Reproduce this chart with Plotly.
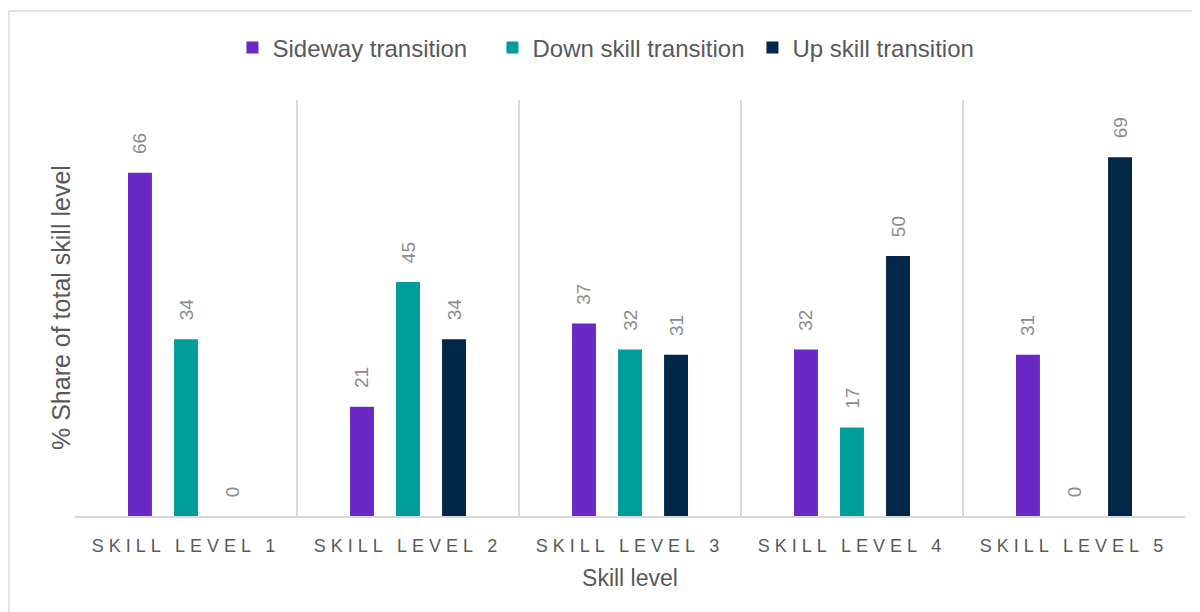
import plotly.graph_objects as go

categories = ["SKILL LEVEL 1", "SKILL LEVEL 2", "SKILL LEVEL 3", "SKILL LEVEL 4", "SKILL LEVEL 5"]
sideway = [66, 21, 37, 32, 31]
down_skill = [34, 45, 32, 17, 0]
up_skill = [0, 34, 31, 50, 69]

series = [
    ("Sideway transition", sideway, "#6929C4"),
    ("Down skill transition", down_skill, "#009D9A"),
    ("Up skill transition", up_skill, "#012749"),
]

NB = "\u00a0"
fig = go.Figure()
for name, vals, color in series:
    fig.add_trace(go.Bar(
        x=categories, y=vals, name=name,
        marker=dict(color=color, line=dict(width=0)),
        text=[NB * 3 + str(v) for v in vals], textposition="outside", textangle=-90,
        constraintext="none",
        textfont=dict(family="Liberation Sans, Arial", size=19, color="#8C8C8C"),
        cliponaxis=False,
    ))

ticktext = ['<span style="letter-spacing:5px">' + c + '</span>' for c in categories]

fig.update_layout(
    width=1200, height=612,
    margin=dict(l=67, r=23, t=92, b=104, autoexpand=False),
    paper_bgcolor="white", plot_bgcolor="white",
    font=dict(family="Liberation Sans, Arial", color="#595959"),
    barmode="group", bargap=0.378, bargroupgap=0.48,
    showlegend=True,
    legend=dict(orientation="h", x=0.4932, xanchor="center", y=1.125, yanchor="middle",
                font=dict(size=24, color="#595959"), itemwidth=30, tracegroupgap=0,
                entrywidth=215, entrywidthmode="pixels"),
    xaxis=dict(
        tickmode="array", tickvals=categories, ticktext=ticktext,
        tickson="boundaries", ticks="", showgrid=True, gridcolor="#D9D9D9", gridwidth=2,
        showline=True, linecolor="#D9D9D9", linewidth=2,
        tickfont=dict(size=18, color="#595959"), ticklabelstandoff=12,
        title=dict(text="Skill level", font=dict(size=23, color="#595959"), standoff=15),
    ),
    yaxis=dict(
        range=[0, 80], showgrid=False, showticklabels=False, zeroline=False, ticks="",
    ),
    annotations=[dict(text="% Share of total skill level", xref="paper", yref="paper",
                      x=-0.0126, y=0.5, xanchor="center", yanchor="middle", textangle=-90,
                      showarrow=False, font=dict(size=25, color="#595959"))],
    shapes=[dict(type="rect", xref="paper", yref="paper",
                 x0=-0.0595, x1=1.05, y0=-0.4, y1=1.2139,
                 line=dict(color="#D9D9D9", width=1.5), layer="below")],
)

fig.write_html("out.html")
